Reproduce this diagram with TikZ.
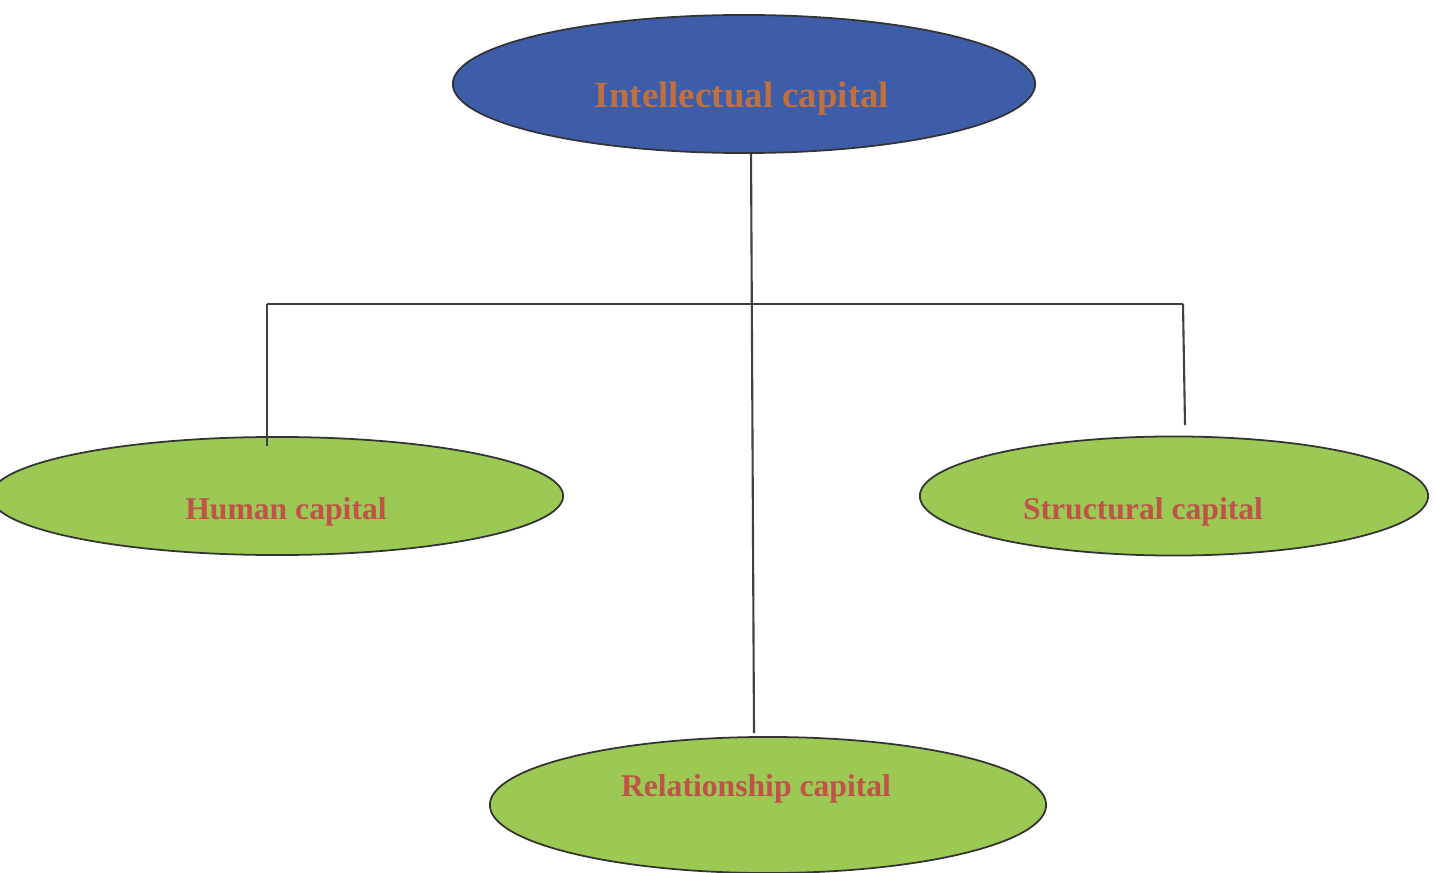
\documentclass[tikz,border=0pt]{standalone}
\usepackage{fontspec}
\setmainfont{Liberation Serif}
\usepackage{xcolor}
\usetikzlibrary{positioning,shapes.geometric}

\definecolor{icblue}{HTML}{3D5DA8}
\definecolor{icgreen}{HTML}{9BC953}
\definecolor{ictext}{HTML}{C0524A}
\definecolor{ictop}{HTML}{C0703F}

\begin{document}
\begin{tikzpicture}[
  x=0.01cm, y=-0.01cm,
  font=\fontsize{9}{11}\selectfont\bfseries,
  capnode/.style={ellipse, draw=black!80, line width=0.5pt, inner sep=0pt},
  sub/.style={capnode, fill=icgreen},
  lbl/.style={text=ictext},
  link/.style={draw=black!75, line width=0.6pt},
]
\useasboundingbox (0,0) rectangle (1436,873);

\node[capnode, fill=icblue, minimum width=5.82cm, minimum height=1.38cm] (ic) at (744,84) {};
\node[text=ictop, font=\fontsize{10.5}{12}\selectfont\bfseries] (iclbl) at (742,99) {Intellectual capital};

\node[sub, minimum width=5.72cm, minimum height=1.18cm] (hc) at (277,496) {};
\node[lbl] (hclbl) at (286,512) {Human capital};

\node[sub, minimum width=5.08cm, minimum height=1.19cm] (sc) at (1174,496) {};
\node[lbl] (sclbl) at (1143,512) {Structural capital};

\node[sub, minimum width=5.56cm, minimum height=1.36cm] (rc) at (768,805) {};
\node[lbl] (rclbl) at (756,789) {Relationship capital};

% tree lines
\coordinate (jl) at (267,304);
\coordinate (jr) at (1183,304);
\coordinate (rend) at (754,733);
\coordinate (send) at (1185,425);
\draw[link] ([xshift=2pt]ic.south) -- (rend);
\draw[link] (jl) -- (jr);
\draw[link] (jl) -- (jl |- hc.north) -- ++(0,10);
\draw[link] (jr) -- (send);
\end{tikzpicture}
\end{document}
